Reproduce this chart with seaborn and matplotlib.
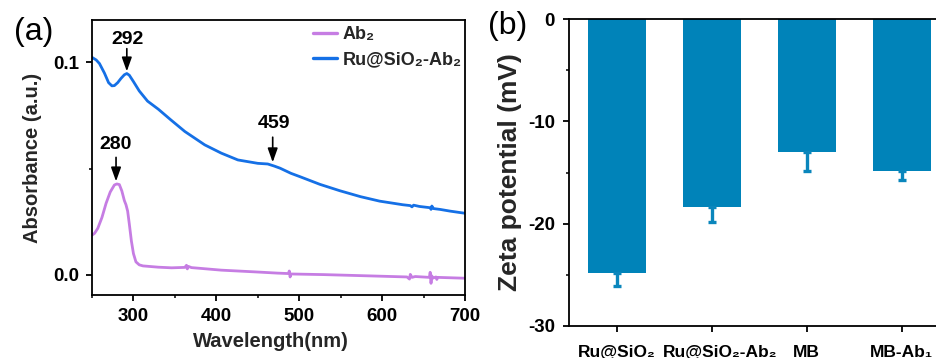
import matplotlib
matplotlib.use("Agg")
import matplotlib.pyplot as plt
from matplotlib.ticker import MultipleLocator, FormatStrFormatter
from matplotlib.transforms import ScaledTranslation
import seaborn as sns
import numpy as np

# ---------------- data ----------------
# Panel (a): UV-vis absorbance
wl_ab2 = [250, 253, 257, 262, 267, 272, 277, 280, 283, 286, 289, 291, 293, 295,
          297.5, 300, 303, 307, 311.5, 330, 346, 362, 364, 365, 366, 370, 406,
          446, 474, 487, 488, 489, 490, 530, 585, 630, 633, 634, 636, 640, 657,
          658, 659, 660, 661, 665, 666, 667, 700]
abs_ab2 = [0.0187, 0.0195, 0.0219, 0.0270, 0.0337, 0.0390, 0.0423, 0.0428, 0.0425,
           0.0395, 0.0350, 0.0330, 0.0300, 0.0240, 0.0160, 0.0100, 0.0061, 0.0047,
           0.0042, 0.0036, 0.0033, 0.0035, 0.0045, 0.0028, 0.0040, 0.0034, 0.0022,
           0.0014, 0.0008, 0.0006, 0.0018, -0.0010, 0.0004, 0.0001, -0.0005, -0.0010,
           -0.0020, 0.0002, -0.0012, -0.0008, -0.0012, 0.0012, -0.0040, -0.0005,
           -0.0016, -0.0010, -0.0022, -0.0012, -0.0016]

wl_ru = [250, 255, 259, 265, 270, 274, 277, 281, 285, 289, 292, 295, 300, 307, 317,
         330, 345, 362, 386, 406, 426, 450, 462, 470, 477, 490, 501, 525, 549, 574,
         597, 625, 634, 636, 638, 645, 658, 659, 660, 662, 670, 682, 698, 700]
abs_ru = [0.1024, 0.1012, 0.0995, 0.0950, 0.0905, 0.0890, 0.0891, 0.0905, 0.0925,
          0.0942, 0.0948, 0.0940, 0.0910, 0.0866, 0.0818, 0.0780, 0.0730, 0.0675,
          0.0612, 0.0573, 0.0541, 0.0525, 0.0522, 0.0512, 0.0502, 0.0478, 0.0462,
          0.0426, 0.0396, 0.0368, 0.0347, 0.0330, 0.0326, 0.0320, 0.0328, 0.0322,
          0.0316, 0.0308, 0.0324, 0.0312, 0.0308, 0.0300, 0.0291, 0.0290]

series_labels = ["Ab\u2082", "Ru@SiO\u2082-Ab\u2082"]
peak_labels = ["292", "459", "280"]
peak_tips = [(292, 0.0958), (468, 0.0530), (279, 0.0440)]
peak_tails = [(292, 0.1065), (468, 0.0648), (279, 0.0553)]
peak_text = [(292.5, 0.1108), (469, 0.0712), (279, 0.0612)]

# Panel (b): zeta potential
categories = ["Ru@SiO\u2082", "Ru@SiO\u2082-Ab\u2082", "MB", "MB-Ab\u2081"]
zeta = [-24.8, -18.4, -12.95, -14.9]
zeta_err = [1.3, 1.4, 1.9, 0.8]

# ---------------- style ----------------
sns.set_theme(style="ticks")
plt.rcParams["font.family"] = ["Liberation Sans", "DejaVu Sans"]
plt.rcParams["font.weight"] = "bold"
plt.rcParams["axes.labelweight"] = "bold"
plt.rcParams["axes.unicode_minus"] = False
plt.rcParams["axes.linewidth"] = 1.3
plt.rcParams["xtick.major.width"] = 1.3
plt.rcParams["ytick.major.width"] = 1.3
plt.rcParams["xtick.minor.width"] = 1.1
plt.rcParams["ytick.minor.width"] = 1.1
plt.rcParams["xtick.major.size"] = 4.5
plt.rcParams["ytick.major.size"] = 4.5
plt.rcParams["xtick.minor.size"] = 2.5
plt.rcParams["ytick.minor.size"] = 2.5
plt.rcParams["xtick.color"] = "black"
plt.rcParams["ytick.color"] = "black"
plt.rcParams["axes.edgecolor"] = "black"

W, H = 937, 358
fig = plt.figure(figsize=(W / 100, H / 100), dpi=100)

def ax_rect(l, t, r, b):
    return [l / W, 1 - b / H, (r - l) / W, (b - t) / H]

# ---------------- panel (a) ----------------
axa = fig.add_axes(ax_rect(92, 20, 465, 295))
c_purple = "#C67DE3"
c_blue = "#1570E6"
sns.lineplot(x=wl_ab2, y=abs_ab2, ax=axa, color=c_purple, lw=2.0, label=series_labels[0])
sns.lineplot(x=wl_ru, y=abs_ru, ax=axa, color=c_blue, lw=2.0, label=series_labels[1])
axa.set_xlim(250, 700)
axa.set_ylim(-0.0095, 0.120)
axa.xaxis.set_major_locator(MultipleLocator(100))
axa.xaxis.set_minor_locator(MultipleLocator(50))
axa.yaxis.set_major_locator(MultipleLocator(0.1))
axa.yaxis.set_minor_locator(MultipleLocator(0.05))
axa.yaxis.set_major_formatter(FormatStrFormatter("%.1f"))
for s in axa.spines.values():
    s.set_visible(True)
axa.tick_params(axis="both", which="both", direction="out", top=False, right=False)
axa.tick_params(axis="both", which="major", labelsize=13.5, pad=5)
axa.set_xlabel("Wavelength(nm)", fontsize=14.5, fontweight="bold")
axa.set_ylabel("Absorbance (a.u.)", fontsize=14.5, fontweight="bold")
axa.xaxis.set_label_coords(0.48, -0.135)
axa.yaxis.set_label_coords(-0.134, 0.5)

leg = axa.legend(loc="upper right", bbox_to_anchor=(1.0, 0.99), frameon=False,
                 fontsize=13, handlelength=1.3, handletextpad=0.3, labelspacing=0.45,
                 borderaxespad=0.0, borderpad=0.2)
for t in leg.get_texts():
    t.set_fontweight("bold")
for h in leg.get_lines():
    h.set_linewidth(2.4)

for lab, tip, tail, tp in zip(peak_labels, peak_tips, peak_tails, peak_text):
    axa.annotate("", xy=tip, xytext=tail,
                 arrowprops=dict(arrowstyle="-|>,head_length=0.7,head_width=0.25",
                                 color="black", lw=1.2,
                                 mutation_scale=12, shrinkA=0, shrinkB=0))
    axa.text(tp[0], tp[1], lab, ha="center", va="center", fontsize=14,
             fontweight="bold", color="black")

fig.text(14 / W, 1 - 32 / H, "(a)", fontsize=23, fontweight="normal",
         ha="left", va="center", color="black")

# ---------------- panel (b) ----------------
axb = fig.add_axes(ax_rect(569, 19, 937, 326))
bar_color = "#0083B9"
sns.barplot(x=categories, y=zeta, ax=axb, color=bar_color, saturation=1,
            width=0.61, errorbar=None, edgecolor="none")
xpos = [p.get_x() + p.get_width() / 2 for p in axb.patches]
axb.errorbar(xpos, zeta, yerr=[zeta_err, [0] * len(zeta_err)], fmt="none",
             ecolor="#0A86BC", elinewidth=2.4, capsize=3.2, capthick=2.4)
axb.set_xlim(-0.5, 3.37)
axb.set_ylim(-30, 0)
axb.yaxis.set_major_locator(MultipleLocator(10))
axb.yaxis.set_minor_locator(MultipleLocator(5))
axb.spines["right"].set_visible(False)
axb.spines["top"].set_visible(True)
axb.tick_params(axis="both", which="both", direction="out", top=False, right=False)
axb.tick_params(axis="y", which="major", labelsize=13.5, pad=5.5)
axb.tick_params(axis="x", which="major", labelsize=12.5, pad=9)
axb.set_xlabel("")
axb.set_ylabel("Zeta potential (mV)", fontsize=19, fontweight="bold")
axb.yaxis.set_label_coords(-0.128, 0.5)

fig.text(488 / W, 1 - 26 / H, "(b)", fontsize=23, fontweight="normal",
         ha="left", va="center", color="black")

fig.canvas.draw()
for ax in (axa, axb):
    for lbl in ax.get_xticklabels() + ax.get_yticklabels():
        lbl.set_fontweight("bold")
# small horizontal nudge of the category labels as in the reference
shifts_px = [0, 8, 0, 0]
for lbl, dx in zip(axb.get_xticklabels(), shifts_px):
    if dx:
        lbl.set_transform(lbl.get_transform() + ScaledTranslation(dx / 100, 0, fig.dpi_scale_trans))

fig.savefig("out.png", dpi=100)
